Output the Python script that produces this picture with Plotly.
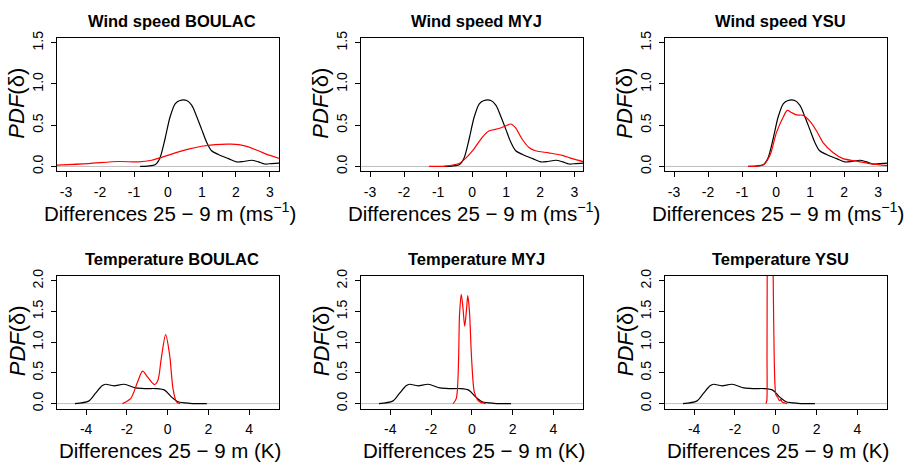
import plotly.graph_objects as go

W, H = 913, 467

# ---------------- data ----------------
# Wind speed, observed (black) density
wind_obs_x = [-0.82, -0.6, -0.38, -0.24, -0.09, 0.06, 0.21, 0.35, 0.55, 0.70, 0.84, 0.99, 1.14, 1.28, 1.48, 1.78, 2.02, 2.22, 2.46, 2.66, 2.85, 3.05, 3.3]
wind_obs_y = [0.0, 0.005, 0.02, 0.10, 0.33, 0.60, 0.76, 0.80, 0.80, 0.74, 0.61, 0.45, 0.29, 0.19, 0.145, 0.095, 0.055, 0.06, 0.075, 0.055, 0.03, 0.035, 0.04]

wind_boulac_x = [-3.35, -2.34, -1.46, -0.87, -0.48, -0.19, 0.21, 0.60, 0.99, 1.38, 1.87, 2.26, 2.66, 2.95, 3.3]
wind_boulac_y = [0.015, 0.035, 0.06, 0.055, 0.075, 0.11, 0.165, 0.21, 0.245, 0.265, 0.27, 0.25, 0.19, 0.14, 0.095]

wind_myj_x = [-1.27, -0.78, -0.39, -0.20, 0.05, 0.29, 0.49, 0.79, 0.98, 1.13, 1.27, 1.47, 1.67, 1.86, 2.25, 2.65, 2.94, 3.3]
wind_myj_y = [0.0, 0.005, 0.035, 0.095, 0.21, 0.35, 0.43, 0.46, 0.49, 0.515, 0.47, 0.33, 0.23, 0.19, 0.165, 0.135, 0.095, 0.055]

wind_ysu_x = [-0.81, -0.37, -0.18, 0.01, 0.21, 0.33, 0.45, 0.60, 0.80, 0.99, 1.19, 1.38, 1.67, 1.97, 2.36, 2.75, 3.3]
wind_ysu_y = [0.0, 0.02, 0.135, 0.41, 0.60, 0.68, 0.655, 0.625, 0.62, 0.55, 0.43, 0.29, 0.17, 0.095, 0.065, 0.035, 0.01]

# Temperature, observed (black) density
temp_obs_x = [-4.55, -3.88, -3.55, -3.22, -3.05, -2.64, -2.14, -1.56, -1.06, -0.57, -0.15, 0.18, 0.51, 1.09, 1.92]
temp_obs_y = [0.0, 0.04, 0.165, 0.29, 0.315, 0.29, 0.315, 0.255, 0.245, 0.245, 0.22, 0.11, 0.03, 0.005, 0.0]

temp_boulac_x = [-2.22, -1.81, -1.48, -1.23, -0.98, -0.65, -0.48, -0.32, -0.10, 0.10, 0.26, 0.43, 0.60]
temp_boulac_y = [0.0, 0.085, 0.35, 0.53, 0.43, 0.31, 0.38, 0.725, 1.125, 0.78, 0.245, 0.03, 0.0]

temp_myj_x = [-0.92, -0.76, -0.60, -0.52, -0.44, -0.35, -0.25, -0.20, -0.12, -0.01, 0.12, 0.28, 0.44, 0.68]
temp_myj_y = [0.0, 0.085, 1.47, 1.78, 1.58, 1.26, 1.58, 1.76, 1.52, 0.72, 0.19, 0.06, 0.02, 0.0]

temp_ysu_x = [-0.48, -0.44, -0.43, -0.42, -0.38, -0.33, -0.28, -0.23, -0.18, -0.14, -0.12, -0.08, -0.04, 0.0, 0.05, 0.10, 0.15, 0.20, 0.25, 0.30, 0.35, 0.45, 0.55]
temp_ysu_y = [0.0, 0.05, 0.8, 2.2, 4.5, 6.5, 7.0, 6.5, 4.5, 2.5, 1.8, 0.8, 0.3, 0.15, 0.12, 0.10, 0.06, 0.05, 0.07, 0.03, 0.02, 0.01, 0.0]

titles = ["Wind speed BOULAC", "Wind speed MYJ", "Wind speed YSU",
          "Temperature BOULAC", "Temperature MYJ", "Temperature YSU"]

wind_xticks = [-3, -2, -1, 0, 1, 2, 3]
wind_yticks = [0.0, 0.5, 1.0, 1.5]
temp_xticks = [-4, -2, 0, 2, 4]
temp_yticks = [0.0, 0.5, 1.0, 1.5, 2.0]

wind_xlabel = "Differences 25 − 9 m (ms<sup>−1</sup>)"
temp_xlabel = "Differences 25 − 9 m (K)"
ylabel = "<i>PDF</i>(δ)"

# ---------------- layout geometry (pixels) ----------------
boxes = [
    (57.0, 279.0, 31.5, 168.0),
    (361.0, 583.3, 31.5, 168.0),
    (665.0, 887.2, 31.5, 168.0),
    (57.0, 279.0, 274.8, 410.3),
    (361.0, 583.3, 274.8, 410.3),
    (665.0, 887.2, 274.8, 410.3),
]

panels = [
    (wind_obs_x, wind_obs_y, wind_boulac_x, wind_boulac_y),
    (wind_obs_x, wind_obs_y, wind_myj_x, wind_myj_y),
    (wind_obs_x, wind_obs_y, wind_ysu_x, wind_ysu_y),
    (temp_obs_x, temp_obs_y, temp_boulac_x, temp_boulac_y),
    (temp_obs_x, temp_obs_y, temp_myj_x, temp_myj_y),
    (temp_obs_x, temp_obs_y, temp_ysu_x, temp_ysu_y),
]

FONT = "Liberation Sans, Arial, sans-serif"
fig = go.Figure()
layout = dict(
    width=W, height=H, margin=dict(l=0, r=0, t=0, b=0),
    paper_bgcolor="white", plot_bgcolor="white", showlegend=False,
    font=dict(family=FONT, color="black"),
)
annotations = []
shapes = []

for i, (box, data) in enumerate(zip(boxes, panels)):
    n = i + 1
    xa = "xaxis" if n == 1 else f"xaxis{n}"
    ya = "yaxis" if n == 1 else f"yaxis{n}"
    xr = "x" if n == 1 else f"x{n}"
    yr = "y" if n == 1 else f"y{n}"
    x0, x1, y0, y1 = box
    wind = i < 3
    ox, oy, mx, my = data
    fig.add_trace(go.Scatter(x=ox, y=oy, mode="lines", xaxis=xr, yaxis=yr,
                             line=dict(color="black", width=1.2, shape="spline", smoothing=0.8),
                             hoverinfo="skip"))
    fig.add_trace(go.Scatter(x=mx, y=my, mode="lines", xaxis=xr, yaxis=yr,
                             line=dict(color="red", width=1.2, shape="spline", smoothing=0.8),
                             hoverinfo="skip"))
    layout[xa] = dict(
        domain=[x0 / W, x1 / W], anchor=yr,
        range=[-3.265, 3.265] if wind else [-5.43, 5.46],
        tickvals=wind_xticks if wind else temp_xticks,
        ticktext=[str(v) for v in (wind_xticks if wind else temp_xticks)],
        ticks="outside", ticklen=5, tickwidth=1, tickcolor="black",
        showline=True, linecolor="black", linewidth=1, mirror=True,
        showgrid=False, zeroline=False,
        tickfont=dict(size=14, family=FONT, color="black"),
        ticklabelstandoff=3,
    )
    yt = wind_yticks if wind else temp_yticks
    layout[ya] = dict(
        domain=[1 - y1 / H, 1 - y0 / H], anchor=xr,
        range=[-0.06, 1.56] if wind else [-0.08, 2.08],
        tickvals=yt, ticktext=[f"{v:.1f}" for v in yt],
        ticks="outside", ticklen=5, tickwidth=1, tickcolor="black",
        showline=True, linecolor="black", linewidth=1, mirror=True,
        showgrid=False, zeroline=False, tickangle=-90,
        tickfont=dict(size=14, family=FONT, color="black"),
        ticklabelstandoff=2,
    )
    shapes.append(dict(type="line", xref=f"{xr} domain", yref=yr, x0=0, x1=1, y0=0, y1=0,
                       line=dict(color="#BEBEBE", width=1), layer="below"))
    cx = (x0 + x1) / 2 / W
    title_y = 14.5 if wind else 258
    annotations.append(dict(text=f"<b>{titles[i]}</b>", xref="paper", yref="paper",
                            x=cx + 4 / W, y=1 - title_y / H, showarrow=False,
                            xanchor="center", yanchor="middle",
                            font=dict(size=16.5, family=FONT, color="black")))
    xl_y = 209 if wind else 453
    annotations.append(dict(text=wind_xlabel if wind else temp_xlabel, xref="paper", yref="paper",
                            x=cx + 2 / W, y=1 - xl_y / H, showarrow=False,
                            xanchor="center", yanchor="middle",
                            font=dict(size=20.5, family=FONT, color="black")))
    annotations.append(dict(text=ylabel, xref="paper", yref="paper",
                            x=(x0 - 40) / W, y=1 - ((y0 + y1) / 2 - 1) / H, showarrow=False,
                            xanchor="center", yanchor="middle", textangle=-90,
                            font=dict(size=22, family=FONT, color="black")))

layout["annotations"] = annotations
layout["shapes"] = shapes
fig.update_layout(**layout)
fig.write_html("out.html")
